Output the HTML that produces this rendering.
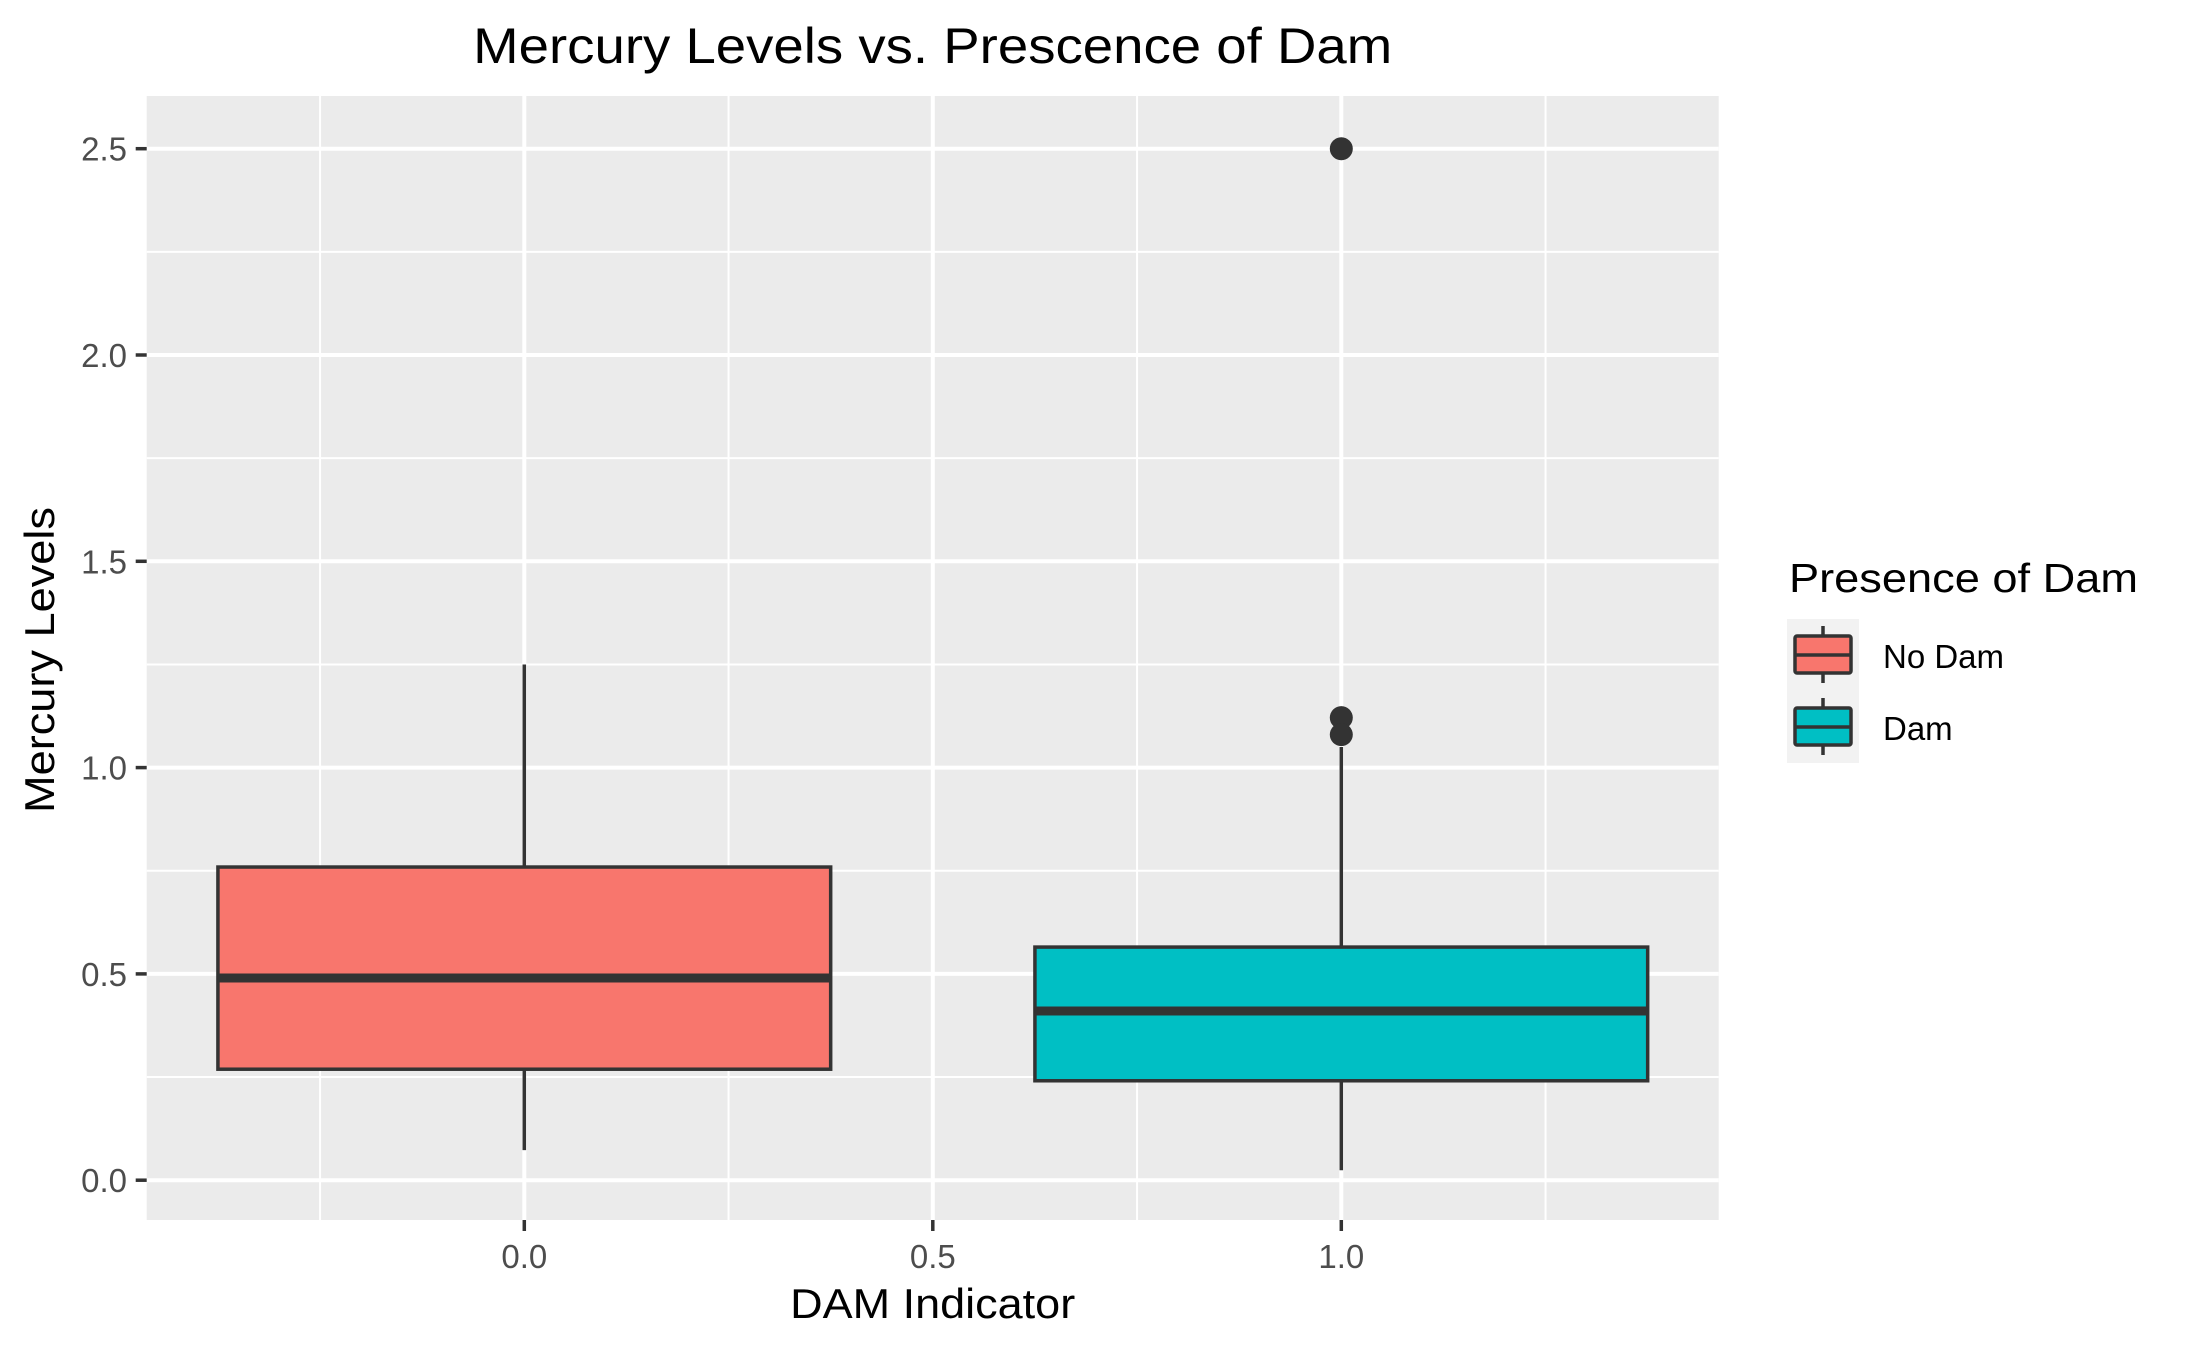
<!DOCTYPE html>
<html><head><meta charset="utf-8"><style>
html,body{margin:0;padding:0;background:#fff;}
svg{display:block;font-family:"Liberation Sans",Arial,sans-serif;}
</style></head><body>
<svg id="chart" width="2187" height="1350" viewBox="0 0 2187 1350" xmlns="http://www.w3.org/2000/svg">
<rect width="2187" height="1350" fill="#fff"/>
<rect x="146.7" y="96" width="1572" height="1124" fill="#ebebeb"/>
<g id="grid"></g>
<g id="marks"></g>
<g id="axes"></g>
<text x="932.7" y="63" font-size="50" text-anchor="middle" textLength="919" lengthAdjust="spacingAndGlyphs" fill="#000">Mercury Levels vs. Prescence of Dam</text>
<text x="932.7" y="1318" font-size="42" text-anchor="middle" textLength="285" lengthAdjust="spacingAndGlyphs" fill="#000">DAM Indicator</text>
<text transform="translate(54,660) rotate(-90)" font-size="42" text-anchor="middle" textLength="306" lengthAdjust="spacingAndGlyphs" fill="#000">Mercury Levels</text>
<g id="legend">
<text x="1789" y="592" font-size="41" textLength="349" lengthAdjust="spacingAndGlyphs" fill="#000">Presence of Dam</text>
</g>
</svg>
<script>
const categories = [0, 1];
const groupNames = ["No Dam", "Dam"];
const fills = ["#F8766D", "#00BFC4"];
const whiskerLow = [0.073, 0.024];
const q1 = [0.269, 0.241];
const medians = [0.490, 0.410];
const q3 = [0.759, 0.565];
const whiskerHigh = [1.250, 1.050];
const outliersX = [1, 1, 1];
const outliersY = [2.5, 1.121, 1.080];
const yTicks = [0, 0.5, 1.0, 1.5, 2.0, 2.5];
const yTickLabels = ["0.0", "0.5", "1.0", "1.5", "2.0", "2.5"];
const xTicks = [0, 0.5, 1.0];
const xTickLabels = ["0.0", "0.5", "1.0"];

const NS = "http://www.w3.org/2000/svg";
const PL = 146.7, PR = 1718.7, PT = 96, PB = 1220;
const xs = v => 524.3 + v * 817;
const ys = v => 1180.2 - v * 412.6;
function mk(parent, tag, attrs) {
  const e = document.createElementNS(NS, tag);
  for (const k in attrs) e.setAttribute(k, attrs[k]);
  parent.appendChild(e);
  return e;
}
const grid = document.getElementById('grid');
const marks = document.getElementById('marks');
const axes = document.getElementById('axes');
const legend = document.getElementById('legend');

for (let i = 0; i < yTicks.length - 1; i++) {
  const v = (yTicks[i] + yTicks[i + 1]) / 2;
  const l = mk(grid, 'line', {x1: PL, x2: PR, y1: ys(v), y2: ys(v), stroke: '#fff', 'stroke-width': 2});
  
  
}
for (const v of [-0.25, 0.25, 0.75, 1.25]) {
  const l = mk(grid, 'line', {x1: xs(v), x2: xs(v), y1: PT, y2: PB, stroke: '#fff', 'stroke-width': 2});
  
  
}
yTicks.forEach((v, i) => {
  const l = mk(grid, 'line', {x1: PL, x2: PR, y1: ys(v), y2: ys(v), stroke: '#fff', 'stroke-width': 4});
  
  
  const t = mk(axes, 'line', {x1: PL - 11, x2: PL, y1: ys(v), y2: ys(v), stroke: '#333', 'stroke-width': 3.5});
  
  
  const tx = mk(axes, 'text', {x: 127, y: ys(v) + 12, 'font-size': 33, 'text-anchor': 'end', fill: '#4d4d4d'});
  tx.textContent = yTickLabels[i];
  
  
});
xTicks.forEach((v, i) => {
  const l = mk(grid, 'line', {x1: xs(v), x2: xs(v), y1: PT, y2: PB, stroke: '#fff', 'stroke-width': 4});
  
  
  const t = mk(axes, 'line', {x1: xs(v), x2: xs(v), y1: PB, y2: PB + 11, stroke: '#333', 'stroke-width': 3.5});
  
  
  const tx = mk(axes, 'text', {x: xs(v), y: 1268, 'font-size': 33, 'text-anchor': 'middle', fill: '#4d4d4d'});
  tx.textContent = xTickLabels[i];
  
  
});

const hw = 0.375;
categories.forEach((c, i) => {
  const g = mk(marks, 'g', {});
  
  
  const w1 = mk(g, 'line', {x1: xs(c), x2: xs(c), y1: ys(whiskerHigh[i]), y2: ys(q3[i]), stroke: '#333', 'stroke-width': 3.5});
  
  
  const w2 = mk(g, 'line', {x1: xs(c), x2: xs(c), y1: ys(q1[i]), y2: ys(whiskerLow[i]), stroke: '#333', 'stroke-width': 3.5});
  
  
  const r = mk(g, 'rect', {x: xs(c - hw), y: ys(q3[i]), width: xs(c + hw) - xs(c - hw), height: ys(q1[i]) - ys(q3[i]), fill: fills[i], stroke: '#333', 'stroke-width': 3.5});
  
  
  const m = mk(g, 'line', {x1: xs(c - hw), x2: xs(c + hw), y1: ys(medians[i]), y2: ys(medians[i]), stroke: '#333', 'stroke-width': 9});
  
  
});
outliersX.forEach((x, i) => {
  const p = mk(marks, 'circle', {cx: xs(x), cy: ys(outliersY[i]), r: 11.5, fill: '#333'});
  
  
});

groupNames.forEach((n, i) => {
  const top = 619 + i * 72;
  const g = mk(legend, 'g', {});
  
  
  mk(g, 'rect', {x: 1787, y: top, width: 72, height: 72, fill: '#f2f2f2'});
  mk(g, 'line', {x1: 1823, x2: 1823, y1: top + 7, y2: top + 64, stroke: '#333', 'stroke-width': 3.5});
  mk(g, 'rect', {x: 1795, y: top + 17, width: 56, height: 37, rx: 2, fill: fills[i], stroke: '#333', 'stroke-width': 3.5});
  mk(g, 'line', {x1: 1795, x2: 1851, y1: top + 36, y2: top + 36, stroke: '#333', 'stroke-width': 3.5});
  const t = mk(g, 'text', {x: 1883, y: top + 49, 'font-size': 33, fill: '#000'});
  t.textContent = n;
  
  
});
</script>
</body></html>
